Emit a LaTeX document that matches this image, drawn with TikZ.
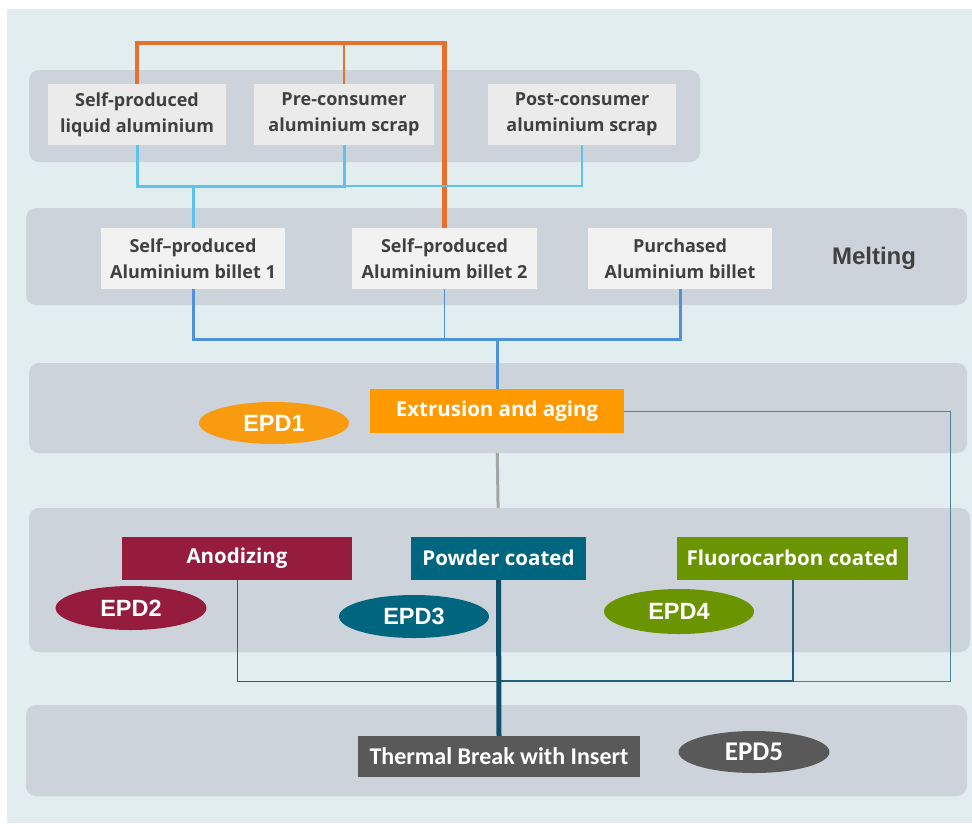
\documentclass[tikz,border=0pt]{standalone}
\usepackage{fontspec}
\setmainfont{Open Sans}
\newfontfamily\arialf{Liberation Sans}
\newfontfamily\calf{Carlito}
\usetikzlibrary{calc}
\usetikzlibrary{shapes.geometric}
\definecolor{sfondo}{HTML}{E2EDF0}
\definecolor{banda}{HTML}{CDD3DA}
\definecolor{scatola}{HTML}{EBEBEB}
\definecolor{billetta}{HTML}{F2F2F2}
\definecolor{testo}{HTML}{404040}
\definecolor{arancio}{HTML}{E8702D}
\definecolor{celeste}{HTML}{5BC3EE}
\definecolor{blu}{HTML}{4E92DC}
\definecolor{grigiolinea}{HTML}{A5A5A5}
\definecolor{estrusione}{HTML}{FF9900}
\definecolor{epdarancio}{HTML}{F99B0F}
\definecolor{anodico}{HTML}{951C3C}
\definecolor{polvere}{HTML}{006680}
\definecolor{fluoro}{HTML}{6A9500}
\definecolor{taglio}{HTML}{595959}
\definecolor{tealscuro}{HTML}{0E4F6A}
\definecolor{teal}{HTML}{235F78}
\definecolor{tealchiaro}{HTML}{4A8298}
\pgfdeclarelayer{fondo}
\pgfdeclarelayer{bande}
\pgfsetlayers{fondo,bande,main}

\begin{document}
\begin{tikzpicture}[x=1pt,y=-1pt]
	\tikzset{grigio/.style={fill=scatola, text=testo, font=\bfseries\fontsize{18}{26}\selectfont, align=center, inner sep=0pt, minimum height=61pt}}
	\tikzset{colore/.style={fill=#1, text=white, font=\bfseries\fontsize{20.5}{24}\selectfont, inner sep=0pt, minimum height=43pt}}
	\tikzset{ellisse/.style={ellipse, fill=#1, text=white, font=\arialf\bfseries\fontsize{23.5}{26}\selectfont, inner sep=0pt, minimum width=150pt, minimum height=42pt}}
	\tikzset{bandabox/.style={fill=banda, rounded corners=10pt}}
	\pgfmathsetmacro{\yo}{43};
	\pgfmathsetmacro{\yl}{186};
	\pgfmathsetmacro{\yb}{339};
	\pgfmathsetmacro{\yt}{681};
	\pgfmathsetmacro{\xr}{950};

	\useasboundingbox (0,0) rectangle (972,823);
\begin{pgfonlayer}{fondo}
	\fill[white] (0,0) rectangle (972,823);
	\fill[sfondo] (7,9) rectangle (972,823);
\end{pgfonlayer}
\begin{pgfonlayer}{bande}
	\fill[bandabox] (29,70) rectangle (700,162);
	\fill[bandabox] (26,208) rectangle (967,305);
	\fill[bandabox] (29,363) rectangle (967,453);
	\fill[bandabox] (29,508) rectangle (970,652);
	\fill[bandabox] (26,705) rectangle (967,796);
\end{pgfonlayer}

	\node[grigio, minimum width=178pt] (liq) at (137,114.5) {Self-produced\\liquid aluminium};
	\node[grigio, minimum width=180pt] (pre) at (344,114.5) {Pre-consumer\\aluminium scrap};
	\node[grigio, minimum width=188pt] (post) at (582,114.5) {Post-consumer\\aluminium scrap};

	\node[grigio, fill=billetta, minimum width=184pt] (b1) at (193,258.5) {Self–produced\\Aluminium billet 1};
	\node[grigio, fill=billetta, minimum width=185pt] (b2) at (444.5,258.5) {Self–produced\\Aluminium billet 2};
	\node[grigio, fill=billetta, minimum width=184pt] (bp) at (680,258.5) {Purchased\\Aluminium billet};
	\node[text=testo, font=\arialf\bfseries\fontsize{24}{28}\selectfont] (mel) at (874,258) {Melting};

	\node[colore=estrusione, minimum width=254pt, minimum height=44pt] (ext) at (497,411) {Extrusion and aging};
	\node[ellisse=epdarancio] (e1) at (274,423) {EPD1};

	\node[colore=anodico, minimum width=230pt] (ano) at (237,558) {Anodizing};
	\node[colore=polvere, minimum width=175pt] (pow) at (498.5,558) {Powder coated};
	\node[colore=fluoro, minimum width=231pt] (flu) at (792.5,558) {Fluorocarbon coated};
	\node[ellisse=anodico, minimum width=151pt, minimum height=44pt] (e2) at (131,608) {EPD2};
	\node[ellisse=polvere, minimum height=43pt] (e3) at (414,616.5) {EPD3};
	\node[ellisse=fluoro, minimum height=45pt] (e4) at (679,611.5) {EPD4};

	\node[fill=taglio, text=white, font=\calf\bfseries\fontsize{24}{28}\selectfont, inner sep=0pt, minimum width=282pt, minimum height=41pt] (tb) at (499,756.5) {Thermal Break with Insert};
	\node[ellisse=taglio, font=\calf\bfseries\fontsize{27}{30}\selectfont, minimum width=151pt] (e5) at (754,752) {EPD5};

	\coordinate (ot) at (0,\yo);
	\coordinate (lb) at (193,\yl);
	\coordinate (mb) at (0,\yb);
	\coordinate (hb) at (0,\yt);
	\coordinate (rc) at (\xr,\yt);

	\draw[arancio, line width=4.5pt] (liq.north) |- (b2.north |- ot) -- (b2.north);
	\draw[arancio, line width=1.5pt] (pre.north) -- (pre.north |- ot);

	\draw[celeste, line width=1.3pt] (pre.south |- lb) -| (post.south);
	\draw[celeste, line width=3pt] (liq.south) |- (pre.south |- lb) -- (pre.south);
	\draw[celeste, line width=3pt] (lb) -- (b1.north);

	\draw[blu, line width=1pt] (b2.south) -- (b2.south |- mb);
	\draw[blu, line width=3pt] (b1.south) |- (bp.south |- mb) -- (bp.south);
	\draw[blu, line width=3pt] (ext.north |- mb) -- (ext.north);

\begin{pgfonlayer}{fondo}
	\draw[grigiolinea, line width=3pt] (ext.south) -- (pow.north);
\end{pgfonlayer}

	\draw[tealchiaro, line width=1pt] (ext.east) -| (rc) -- (flu.south |- hb);
	\draw[teal, line width=1pt] (ano.south) |- (pow.south |- hb);
	\draw[teal, line width=2pt] (flu.south) |- (pow.south |- hb);
	\draw[tealscuro, line width=5pt] (pow.south) -- (tb.north);
\end{tikzpicture}
\end{document}
